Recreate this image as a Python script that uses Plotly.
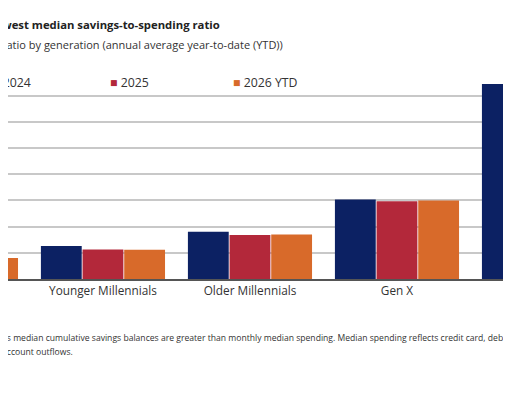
import plotly.graph_objects as go

generations = ['Gen Z', 'Younger Millennials', 'Older Millennials', 'Gen X', 'Boomers']
ratio_2024 = [0.9, 1.26, 1.8, 3.04, 7.45]
ratio_2025 = [0.82, 1.13, 1.68, 2.97, 7.2]
ratio_2026 = [0.8, 1.12, 1.7, 3.0, 7.3]

colors = {'2024': '#0c2163', '2025': '#b3283a', '2026 YTD': '#d86a2a'}
font = 'Open Sans'

fig = go.Figure()
for name, vals in [('2024', ratio_2024), ('2025', ratio_2025), ('2026 YTD', ratio_2026)]:
    fig.add_trace(go.Bar(x=list(range(len(generations))), y=vals, name=name,
                         marker_color=colors[name], marker_line_width=0, showlegend=False))

# page has an 8px offset, so margins/ranges are shifted to match the crop
fig.update_layout(
    width=511, height=400, margin=dict(l=0, r=0, t=61, b=129),
    plot_bgcolor='white', paper_bgcolor='white',
    barmode='group', bargap=0.15, bargroupgap=0.02,
    font=dict(family=font, color='#333'),
)
fig.update_xaxes(range=[0.354, 3.830], tickvals=list(range(len(generations))),
                 ticktext=generations, tickfont=dict(size=11.8, color='#333'),
                 showline=True, linecolor='#555', linewidth=1.5, ticks='', showgrid=False)
fig.update_yaxes(range=[0, 8.02], dtick=1, showgrid=True, gridcolor='#c8c8c8',
                 gridwidth=1.5, showticklabels=False, zeroline=False)

X0 = -8 / 511

def note(x, y, text, anchor, size, bold=False, color='#333'):
    if bold:
        text = '<b>' + text + '</b>'
    fig.add_annotation(xref='paper', yref='paper', x=x, y=y, text=text, showarrow=False,
                       xanchor=anchor, yanchor='middle', font=dict(size=size, color=color, family=font))

def ypx(p):
    p = p - 8
    return 1 - (p - 61) / 210

# title and subtitle, split where the picture cuts them
note(X0, ypx(24), 'Gen Z has the lo', 'right', 11.3, bold=True, color='#222')
note(X0, ypx(24), 'west median savings-to-spending ratio', 'left', 11.3, bold=True, color='#222')
note(X0, ypx(44), 'Savings-to-spending ', 'right', 11)
note(X0, ypx(44), 'ratio by generation (annual average year-to-date (YTD))', 'left', 11)

# legend
note(X0 - 0.02, ypx(82), "<span style='color:%s'>■</span> 2024" % colors['2024'], 'left', 12.3)
note(X0 + 108 / 511, ypx(82), "<span style='color:%s'>■</span> 2025" % colors['2025'], 'left', 12.3)
note(X0 + 231 / 511, ypx(82), "<span style='color:%s'>■</span> 2026 YTD" % colors['2026 YTD'], 'left', 12.3)

# cut-off Boomers tick label
fig.add_annotation(xref='x', yref='paper', x=4, y=ypx(296), text='Boomers', showarrow=False,
                   xanchor='center', yanchor='middle', font=dict(size=11.8, color='#333', family=font))

# footnotes
note(X0, ypx(325), 'Source: Bank of America internal dat', 'right', 8.6)
note(X0, ypx(325), 'a', 'left', 8.6)
note(X0, ypx(338), 'Note: A ratio above 1 indicat', 'right', 8.6)
note(X0, ypx(338), 'es median cumulative savings balances are greater than monthly median spending. '
     'Median spending reflects credit card, debit card', 'left', 8.6)
note(X0, ypx(352), 'and ', 'right', 8.6)
note(X0, ypx(352), 'account outflows.', 'left', 8.6)

fig.write_html('out.html')
